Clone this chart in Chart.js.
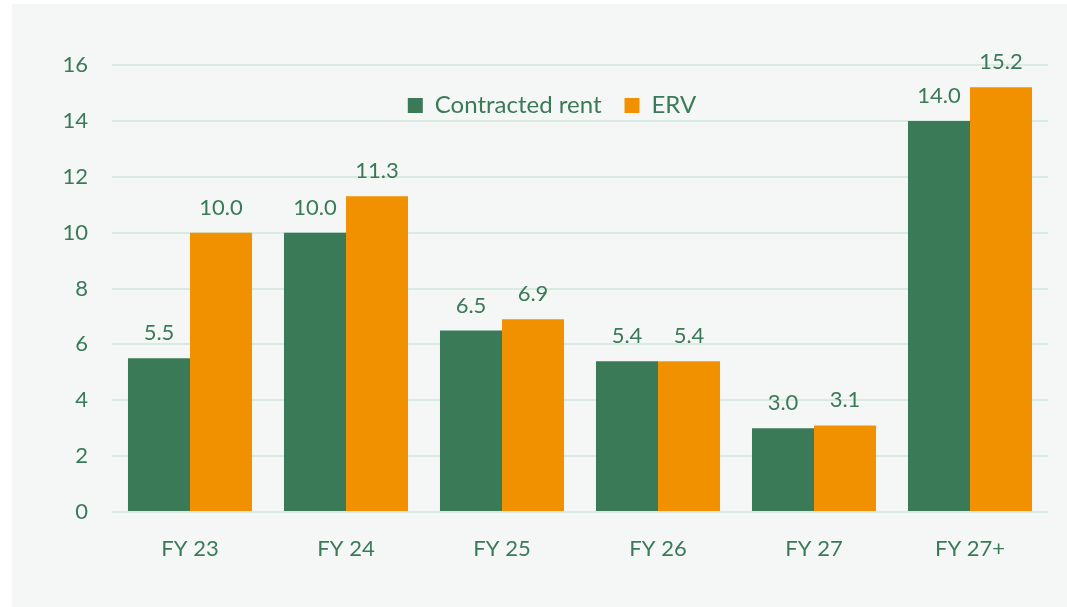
<!DOCTYPE html>
<html>
<head>
<meta charset="utf-8">
<script src="https://cdn.jsdelivr.net/npm/chart.js@4.4.1/dist/chart.umd.min.js"></script>
<style>
  html, body { margin: 0; padding: 0; background: #ffffff; }
  #wrap { position: absolute; left: 12px; top: 4px; width: 1055px; height: 603px; background: #f5f6f6; }
  canvas { display: block; }
</style>
</head>
<body>
<div id="wrap"><canvas id="c" width="1055" height="603"></canvas></div>
<script>
const categories = ['FY 23', 'FY 24', 'FY 25', 'FY 26', 'FY 27', 'FY 27+'];
const contractedRent = [5.5, 10.0, 6.5, 5.4, 3.0, 14.0];
const erv = [10.0, 11.3, 6.9, 5.4, 3.1, 15.2];
const yTicks = [0, 2, 4, 6, 8, 10, 12, 14, 16];

const TEXT = '#3b7a59';
const FONT = 'Lato, "Noto Sans", sans-serif';

const dataLabels = {
  id: 'dataLabels',
  afterDatasetsDraw(chart) {
    const ctx = chart.ctx;
    ctx.save();
    ctx.font = '22px ' + FONT;
    ctx.fillStyle = TEXT;
    ctx.textAlign = 'center';
    ctx.textBaseline = 'bottom';
    chart.data.datasets.forEach((ds, i) => {
      chart.getDatasetMeta(i).data.forEach((bar, j) => {
        ctx.fillText(ds.data[j].toFixed(1), bar.x, bar.y - 14);
      });
    });
    ctx.restore();
  }
};

// move the legend down into the plot area, slightly left of centre
const legendMove = {
  id: 'legendMove',
  afterLayout(chart) {
    const lg = chart.legend;
    if (!lg) return;
    const h = lg.bottom - lg.top;
    const targetCenterY = 95;   // canvas coords
    const newTop = targetCenterY - h / 2;
    lg.bottom = newTop + h; lg.top = newTop;
    const targetCenterX = 540;
    const curCenter = (lg.left + lg.right) / 2;
    const dx = targetCenterX - curCenter;
    lg.left += dx; lg.right += dx;
  }
};

const fixTop = {
  id: 'fixTop',
  afterLayout(chart) {
    // keep the plot top at canvas y=61
    if (!chart.$fixed) {
      chart.$fixed = true;
      const diff = 61 - chart.chartArea.top;
      if (Math.abs(diff) > 0.5) {
        chart.options.layout.padding.top = Math.max(0, diff);
        chart.update();
      }
    }
  }
};

new Chart(document.getElementById('c'), {
  type: 'bar',
  data: {
    labels: categories,
    datasets: [
      { label: 'Contracted rent', data: contractedRent, backgroundColor: '#3a7a57', barPercentage: 1.0, categoryPercentage: 0.795 },
      { label: 'ERV', data: erv, backgroundColor: '#f29100', barPercentage: 1.0, categoryPercentage: 0.795 }
    ]
  },
  options: {
    responsive: false,
    animation: false,
    layout: { padding: { left: 0, right: 19, top: 0, bottom: 0 } },
    plugins: {
      legend: {
        position: 'top',
        labels: {
          color: TEXT,
          font: { family: FONT, size: 24 },
          boxWidth: 15,
          boxHeight: 15,
          padding: 23
        }
      },
      tooltip: { enabled: false }
    },
    scales: {
      x: {
        grid: { display: false, drawTicks: false },
        border: { display: false },
        ticks: { color: TEXT, font: { family: FONT, size: 22 }, padding: 24 },
        afterFit(scale) { scale.height = 95; }
      },
      y: {
        min: 0, max: 16,
        afterBuildTicks(scale) { scale.ticks = yTicks.map(v => ({ value: v })); },
        grid: { color: '#d8ebe0', lineWidth: 2, drawTicks: false },
        border: { display: false },
        ticks: { color: TEXT, font: { family: FONT, size: 22 }, padding: 24 },
        afterFit(scale) { scale.width = 100; }
      }
    }
  },
  plugins: [dataLabels, legendMove, fixTop]
});
</script>
</body>
</html>
